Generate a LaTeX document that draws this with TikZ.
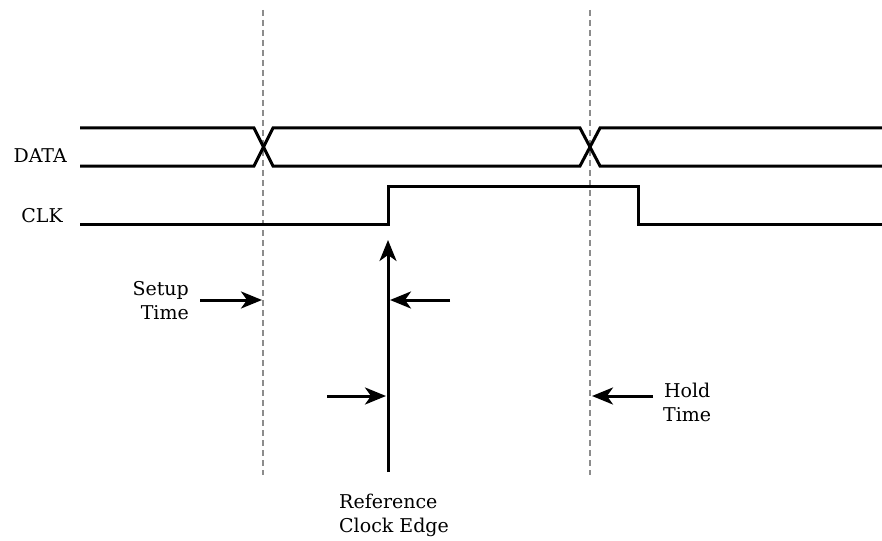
\documentclass[tikz,border=0pt]{standalone}
\usepackage{fontspec}
\setmainfont{DejaVu Serif}
\usepackage{tikz}
\usetikzlibrary{arrows.meta, positioning}

\begin{document}
\begin{tikzpicture}[x=1pt, y=-1pt, line join=miter]
        \tikzset{
            % Define standard arrow tip
            >={Stealth[length=21pt, width=17pt, inset=6pt]},
            % Define style for the signal lines
            wave/.style={
                    line width=3pt},
            % Define style for the dashed guide lines
            guide/.style={
                    draw=gray!90,
                    line width=2.6pt,
                    dash pattern=on 6pt off 4pt},
            % Define arrow style
            pil/.style={
                    ->,
                    line width=3pt},
            % Define style for the texts
            lbl/.style={
                    font=\fontsize{19}{24}\selectfont,
                    inner sep=0pt},
        }
        \useasboundingbox (0,0) rectangle (882,540);

        % Guide lines
        \coordinate (g1top) at (263,10);
        \coordinate (g1bot) at (263,475);
        \coordinate (g2top) at (590,10);
        \coordinate (g2bot) at (590,475);
        \draw[guide] (g1top) -- (g1bot);
        \draw[guide] (g2top) -- (g2bot);

        % Signal names
        \node[lbl, anchor=base east] (data) at (67,162) {DATA};
        \node[lbl, anchor=base east] (clk) at (63,222) {CLK};

        % DATA waveform
        \draw[wave] (80,128) -- (254,128) -- (273,166) -- (580,166) -- (600,128) -- (882,128);
        \draw[wave] (80,166) -- (254,166) -- (273,128) -- (580,128) -- (600,166) -- (882,166);

        % CLK waveform
        \draw[wave] (80,224) -- (388,224) -- (388,186) -- (638,186) -- (638,224) -- (882,224);

        % Reference clock edge
        \coordinate (refbot) at (388,472);
        \coordinate (reftop) at (388,240);
        \draw[pil] (refbot) -- (reftop);
        \node[lbl, align=left, anchor=north west] (ref) at (339,494) {Reference\\Clock Edge};

        % Setup time
        \node[lbl, align=right, anchor=east] (setup) at (189,301) {Setup\\Time};
        \coordinate (sa) at (200,300);
        \coordinate (sb) at (262,300);
        \draw[pil] (sa) -- (sb);
        \coordinate (sc) at (450,300);
        \coordinate (sd) at (390,300);
        \draw[pil] (sc) -- (sd);

        % Hold time
        \coordinate (ha) at (327,396);
        \coordinate (hb) at (386,396);
        \draw[pil] (ha) -- (hb);
        \node[lbl, align=center, anchor=west] (hold) at (663,402) {Hold\\Time};
        \coordinate (hc) at (653,396);
        \coordinate (hd) at (592,396);
        \draw[pil] (hc) -- (hd);

    \end{tikzpicture}
\end{document}
